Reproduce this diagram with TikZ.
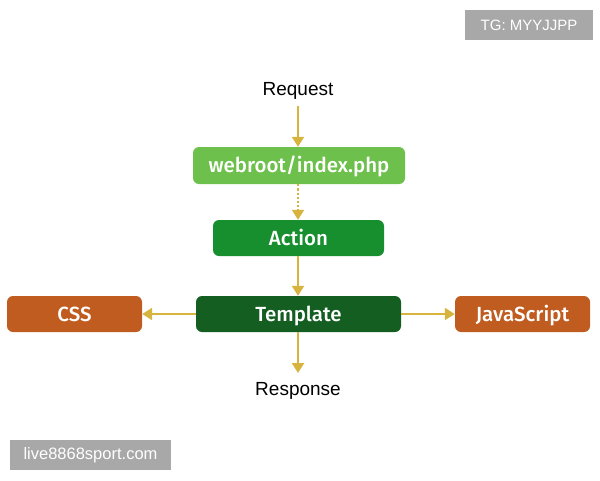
\documentclass[tikz,border=0pt]{standalone}
\usepackage{fontspec}
\setmainfont{Liberation Sans}
\newfontfamily\boxfont{Fira Sans Medium}
\usetikzlibrary{arrows.meta}
\definecolor{arr}{HTML}{D6B43E}
\definecolor{lgreen}{HTML}{6DC04B}
\definecolor{mgreen}{HTML}{178F2F}
\definecolor{dgreen}{HTML}{145E22}
\definecolor{orng}{HTML}{C05C1F}
\definecolor{wm}{HTML}{A8A8A8}
\tikzset{
  boxnode/.style={rounded corners=6pt, text=white, inner sep=0pt, text height=14pt, text depth=0pt, font=\boxfont\fontsize{20.5}{24}\selectfont},
  plain/.style={font=\fontsize{19}{22}\selectfont, inner sep=0pt},
  conn/.style={draw=arr, line width=2.2pt, -{Triangle[length=10pt,width=12pt]}},
  wmark/.style={fill=wm, text=white, inner sep=0pt}
}
\begin{document}
\begin{tikzpicture}[x=1pt,y=-1pt]
\useasboundingbox (0,0) rectangle (600,480);
\node[plain] (req) at (298,90.5) {Request};
\node[boxnode, fill=lgreen, minimum width=212pt, minimum height=37pt] (web) at (299,165.5) {webroot/index.php};
\node[boxnode, fill=mgreen, minimum width=171pt, minimum height=36pt] (act) at (298.5,238) {Action};
\node[boxnode, fill=dgreen, minimum width=205pt, minimum height=36pt] (tpl) at (298.5,314) {Template};
\node[boxnode, fill=orng, minimum width=135pt, minimum height=36pt] (css) at (74.5,314) {CSS};
\node[boxnode, fill=orng, minimum width=135pt, minimum height=36pt] (js) at (522.5,314) {JavaScript};
\node[plain] (resp) at (298,390.5) {Response};
\coordinate (reqb) at (298,106);
\coordinate (respt) at (298,373);
\draw[conn] (reqb) -- (web.north -| reqb);
\draw[conn, dotted, line width=2pt] (web.south -| reqb) -- (act.north -| reqb);
\draw[conn] (act.south -| reqb) -- (tpl.north -| reqb);
\draw[conn] (tpl.south -| reqb) -- (respt);
\draw[conn] (tpl.west) -- (css.east);
\draw[conn] (tpl.east) -- (js.west);
\node[wmark, minimum width=128pt, minimum height=30pt, font=\fontsize{15}{18}\selectfont] (tg) at (529,25) {TG: MYYJJPP};
\node[wmark, minimum width=161pt, minimum height=30pt, font=\fontsize{16.5}{19}\selectfont] (lv) at (90.5,455) {live8868sport.com};
\end{tikzpicture}
\end{document}
